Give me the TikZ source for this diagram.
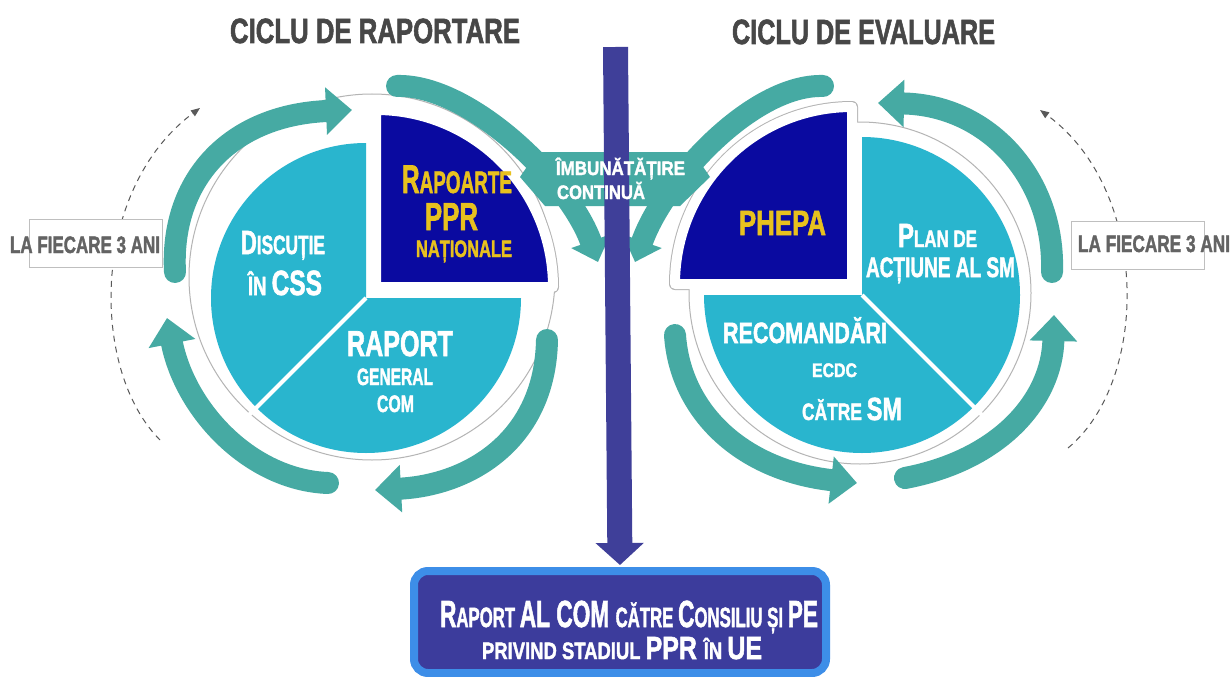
\documentclass[tikz,border=0pt]{standalone}
\usepackage{fontspec}
\setmainfont{Liberation Sans}[BoldFeatures={FakeBold=2}]
\usepackage{graphicx}
\usetikzlibrary{arrows.meta}
\definecolor{tealc}{HTML}{46AAA3}
\definecolor{lightb}{HTML}{29B5CE}
\definecolor{darkb}{HTML}{0A0AA0}
\definecolor{yell}{HTML}{E8C11E}
\definecolor{barc}{HTML}{3F3F99}
\definecolor{boxfill}{HTML}{3C3C9C}
\definecolor{boxedge}{HTML}{3D8EE8}
\definecolor{titleg}{HTML}{474747}
\definecolor{labelg}{HTML}{636363}
\definecolor{ringg}{HTML}{B4B4B4}
\newcommand\fs[1]{\fontsize{#1}{#1}\selectfont}
\newcommand\fitw[2]{\resizebox{#1pt}{\height}{#2}}
\begin{document}
\begin{tikzpicture}[x=1pt,y=-1pt,
  txt/.style={inner sep=0pt, outer sep=0pt, anchor=base, font=\bfseries},
  tarrow/.style={draw=tealc, line width=22pt, line cap=round, -{Triangle[length=26pt 0 1, width=46pt 0 1]}},
  tarrowb/.style={draw=tealc, line width=22pt, line cap=round, -{Triangle[length=22pt 0 1, width=40pt 0 1]}},
  dasharc/.style={draw=black!65, line width=1pt, dash pattern=on 6pt off 5pt, -{Triangle[length=9pt 0 1, width=7pt 0 1]}},
  everybox/.style={draw=black!25, line width=1pt, fill=white, minimum width=133pt, minimum height=48pt, inner sep=0pt},
  reportbox/.style={draw=boxedge, line width=8pt, fill=boxfill, rounded corners=14pt, minimum width=412pt, minimum height=102pt, inner sep=0pt}
]
\useasboundingbox[fill=white] (0,0) rectangle (1232,677);

% dashed cycle arcs
\coordinate (dl1) at (160,440); \coordinate (dl2) at (200,108);
\draw[dasharc] (dl1) .. controls (90,370) and (90,190) .. (dl2);
\coordinate (dr1) at (1068,448); \coordinate (dr2) at (1040,110);
\draw[dasharc] (dr1) .. controls (1150,380) and (1150,190) .. (dr2);
\node[everybox] (boxL) at (95.5,243) {};
\node[everybox] (boxR) at (1137.5,245.5) {};

% left pie
\draw[ringg, line width=12pt, line join=round] (376,287) -- +(0:177) arc[start angle=0,end angle=-90,radius=177] -- cycle;
\draw[ringg, line width=1pt, fill=white] (372,277) circle[radius=183];
\filldraw[draw=white, line width=10pt, line join=round, fill=darkb] (376,287) -- +(0:177) arc[start angle=0,end angle=-90,radius=177] -- cycle;
\fill[lightb] (366,298) -- +(-90:155) arc[start angle=-90,end angle=-225,radius=155] -- cycle;
\fill[lightb] (366,298) -- +(-225:155) arc[start angle=-225,end angle=-360,radius=155] -- cycle;
\draw[white, line width=4pt] (366,298) -- +(-225:172);

% right pie
\draw[ringg, line width=12pt, line join=round] (852,284) -- +(-90:177) arc[start angle=-90,end angle=-180,radius=177] -- cycle;
\draw[ringg, line width=1pt, fill=white] (860,293) circle[radius=171];
\filldraw[draw=white, line width=10pt, line join=round, fill=darkb] (852,284) -- +(-90:177) arc[start angle=-90,end angle=-180,radius=177] -- cycle;
\fill[lightb] (862,295) -- +(45:158) arc[start angle=45,end angle=-90,radius=158] -- cycle;
\fill[lightb] (862,295) -- +(-180:158) arc[start angle=-180,end angle=-315,radius=158] -- cycle;
\draw[white, line width=4pt] (862,295) -- +(45:172);

% teal cycle arrows
\draw[tarrow] (175,272) .. controls (170,180) and (230,115) .. (352,110);
\draw[tarrow] (547,340) .. controls (545,440) and (470,485) .. (375,490);
\draw[tarrow] (328,483) .. controls (250,480) and (185,410) .. (167,318);
\draw[tarrow] (1052,272) .. controls (1055,180) and (990,105) .. (878,103);
\draw[tarrow] (905,478) .. controls (1000,460) and (1052,400) .. (1054,315);
\draw[tarrow] (675,335) .. controls (680,410) and (740,470) .. (857,483);
\draw[tarrowb] (397,86) .. controls (470,84) and (570,182) .. (598,262);
\draw[tarrowb] (823,86) .. controls (752,84) and (663,182) .. (635,262);
\fill[tealc] (520,177) -- (537,152) -- (693,152) -- (710,177) -- (680,206) -- (545,206) -- cycle;

% central bar and report box
\coordinate (bartop) at (615.5,47);
\node[reportbox] (report) at (620,622) {};
\draw[barc, line width=25pt, shorten >=2pt, -{Triangle[length=22pt 0 1, width=47pt 0 1]}] (bartop) -- (report.north);

% texts
\node[txt, text=titleg] (t1) at (375,43) {\fitw{290}{\fs{35}CICLU DE RAPORTARE}};
\node[txt, text=titleg] (t2) at (863.5,44) {\fitw{263}{\fs{35}CICLU DE EVALUARE}};
\node[txt, text=labelg] (lfl) at (85,253) {\fitw{150}{\fs{23.7}LA FIECARE 3 ANI}};
\node[txt, text=labelg] (lfr) at (1154,252) {\fitw{152}{\fs{23.7}LA FIECARE 3 ANI}};

\node[txt, text=yell] (rap1) at (457,193) {\fitw{110}{\fs{40}R\fs{31}APOARTE}};
\node[txt, text=yell] (rap2) at (451.5,230) {\fitw{53}{\fs{39}PPR}};
\node[txt, text=yell] (rap3) at (464,257) {\fitw{96}{\fs{23.7}NAȚIONALE}};

\node[txt, text=white] (dis1) at (283,254) {\fitw{84}{\fs{33.5}D\fs{26.5}ISCUȚIE}};
\node[txt, text=white] (dis2) at (285,295) {\fitw{74}{\fs{26.5}ÎN \fs{35}CSS}};

\node[txt, text=white] (rg1) at (400,356) {\fitw{106}{\fs{36}RAPORT}};
\node[txt, text=white] (rg2) at (395,385) {\fitw{76}{\fs{23.7}GENERAL}};
\node[txt, text=white] (rg3) at (395.5,412) {\fitw{37}{\fs{23.7}COM}};

\node[txt, text=yell] (ph) at (782.5,235) {\fitw{87}{\fs{35}PHEPA}};
\node[txt, text=white] (pl1) at (937.5,247) {\fitw{79}{\fs{33.5}P\fs{23.7}LAN DE}};
\node[txt, text=white] (pl2) at (940.5,277) {\fitw{149}{\fs{28}ACȚIUNE AL SM}};
\node[txt, text=white] (rc1) at (805,343) {\fitw{164}{\fs{29.3}RECOMANDĂRI}};
\node[txt, text=white] (rc2) at (834.5,377) {\fitw{45}{\fs{19.6}ECDC}};
\node[txt, text=white] (rc3) at (852,420) {\fitw{100}{\fs{23.7}CĂTRE \fs{32}SM}};

\node[txt, anchor=base west, text=white] (imb1) at (556,175) {\fitw{129}{\fs{19.5}ÎMBUNĂTĂȚIRE}};
\node[txt, anchor=base west, text=white] (imb2) at (557,199) {\fitw{88}{\fs{19.5}CONTINUĂ}};

\node[txt, text=white] (rb1) at (629,627) {\fitw{378}{\fs{37.7}R\fs{27.9}APORT \fs{37.7}AL COM \fs{27.9}CĂTRE \fs{37.7}C\fs{27.9}ONSILIU ȘI \fs{37.7}PE}};
\node[txt, text=white] (rb2) at (622,659) {\fitw{280}{\fs{23.7}PRIVIND STADIUL \fs{32}PPR \fs{23.7}ÎN \fs{32}UE}};
\end{tikzpicture}
\end{document}
